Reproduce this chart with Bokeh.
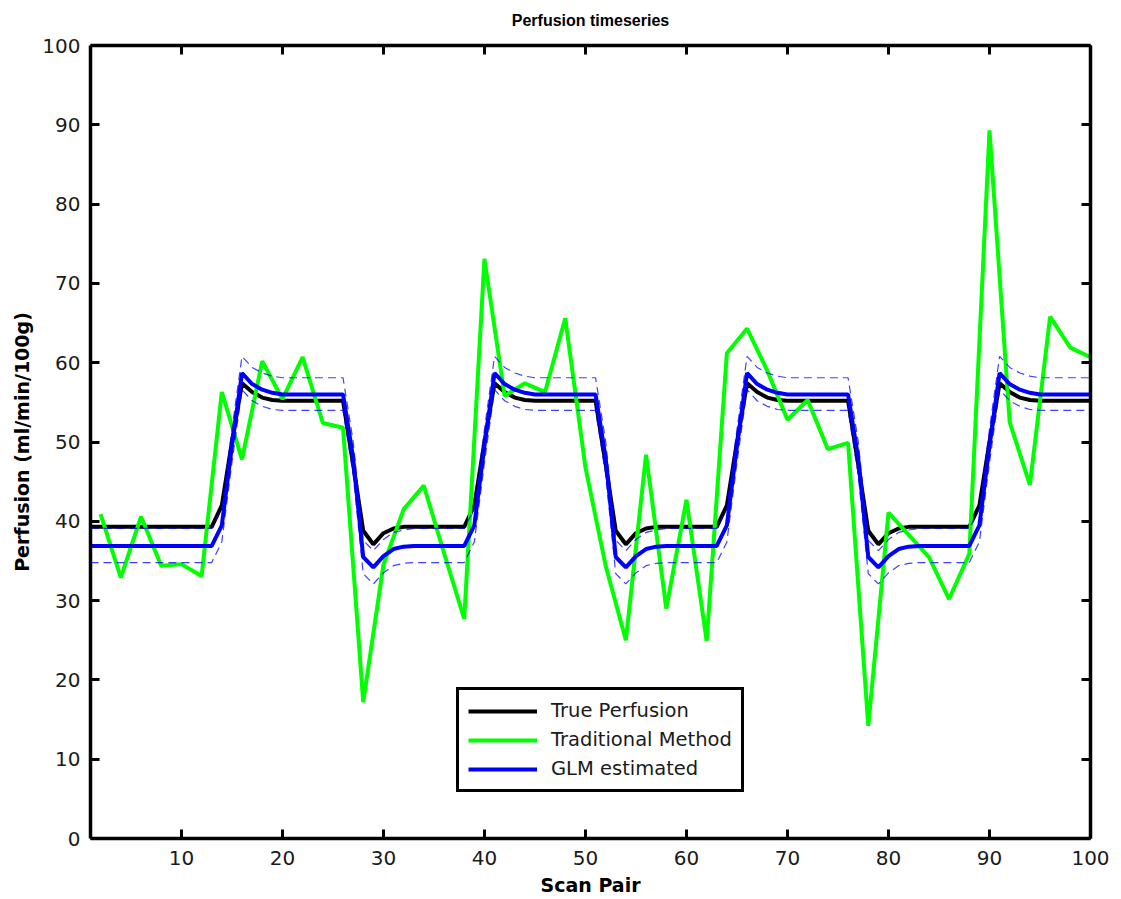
from bokeh.plotting import figure
from bokeh.models import Range1d, LinearAxis, FixedTicker, Legend, LegendItem
from bokeh.embed import file_html
from bokeh.resources import INLINE

# ---------------- data ----------------
scan = list(range(1, 101))

true_perf = [
    39.3, 39.3, 39.3, 39.3, 39.3, 39.3, 39.3, 39.3, 39.3, 39.3, 39.3, 39.3, 39.3,
    42.0, 50.0, 57.4, 56.3, 55.6, 55.3, 55.2, 55.2, 55.2, 55.2, 55.2, 55.2, 55.2,
    47.2, 38.8, 37.1, 38.5, 39.1, 39.3, 39.3, 39.3, 39.3, 39.3, 39.3, 39.3,
    42.0, 50.0, 57.4, 56.3, 55.6, 55.3, 55.2, 55.2, 55.2, 55.2, 55.2, 55.2, 55.2,
    47.2, 38.8, 37.1, 38.5, 39.1, 39.3, 39.3, 39.3, 39.3, 39.3, 39.3, 39.3,
    42.0, 50.0, 57.4, 56.3, 55.6, 55.3, 55.2, 55.2, 55.2, 55.2, 55.2, 55.2, 55.2,
    47.2, 38.8, 37.1, 38.5, 39.1, 39.3, 39.3, 39.3, 39.3, 39.3, 39.3, 39.3,
    42.0, 50.0, 57.4, 56.3, 55.6, 55.3, 55.2, 55.2, 55.2, 55.2, 55.2, 55.2,
]

glm_est = [
    36.9, 36.9, 36.9, 36.9, 36.9, 36.9, 36.9, 36.9, 36.9, 36.9, 36.9, 36.9, 36.9,
    39.5, 49.5, 58.7, 57.3, 56.6, 56.2, 56.0, 56.0, 56.0, 56.0, 56.0, 56.0, 56.0,
    48.0, 35.5, 34.2, 35.6, 36.5, 36.8, 36.9, 36.9, 36.9, 36.9, 36.9, 36.9,
    39.5, 49.5, 58.7, 57.3, 56.6, 56.2, 56.0, 56.0, 56.0, 56.0, 56.0, 56.0, 56.0,
    48.0, 35.5, 34.2, 35.6, 36.5, 36.8, 36.9, 36.9, 36.9, 36.9, 36.9, 36.9,
    39.5, 49.5, 58.7, 57.3, 56.6, 56.2, 56.0, 56.0, 56.0, 56.0, 56.0, 56.0, 56.0,
    48.0, 35.5, 34.2, 35.6, 36.5, 36.8, 36.9, 36.9, 36.9, 36.9, 36.9, 36.9,
    39.5, 49.5, 58.7, 57.3, 56.6, 56.2, 56.0, 56.0, 56.0, 56.0, 56.0, 56.0,
]

glm_upper = [
    39.1, 39.1, 39.1, 39.1, 39.1, 39.1, 39.1, 39.1, 39.1, 39.1, 39.1, 39.1, 39.1,
    41.6, 51.6, 60.8, 59.4, 58.7, 58.3, 58.1, 58.1, 58.1, 58.1, 58.1, 58.1, 58.1,
    50.1, 37.6, 36.3, 37.7, 38.6, 38.9, 39.1, 39.1, 39.1, 39.1, 39.1, 39.1,
    41.6, 51.6, 60.8, 59.4, 58.7, 58.3, 58.1, 58.1, 58.1, 58.1, 58.1, 58.1, 58.1,
    50.1, 37.6, 36.3, 37.7, 38.6, 38.9, 39.1, 39.1, 39.1, 39.1, 39.1, 39.1,
    41.6, 51.6, 60.8, 59.4, 58.7, 58.3, 58.1, 58.1, 58.1, 58.1, 58.1, 58.1, 58.1,
    50.1, 37.6, 36.3, 37.7, 38.6, 38.9, 39.1, 39.1, 39.1, 39.1, 39.1, 39.1,
    41.6, 51.6, 60.8, 59.4, 58.7, 58.3, 58.1, 58.1, 58.1, 58.1, 58.1, 58.1,
]

glm_lower = [
    34.8, 34.8, 34.8, 34.8, 34.8, 34.8, 34.8, 34.8, 34.8, 34.8, 34.8, 34.8, 34.8,
    37.4, 47.4, 56.6, 55.2, 54.5, 54.1, 54.0, 54.0, 54.0, 54.0, 54.0, 54.0, 54.0,
    45.9, 33.4, 32.1, 33.5, 34.4, 34.7, 34.8, 34.8, 34.8, 34.8, 34.8, 34.8,
    37.4, 47.4, 56.6, 55.2, 54.5, 54.1, 54.0, 54.0, 54.0, 54.0, 54.0, 54.0, 54.0,
    45.9, 33.4, 32.1, 33.5, 34.4, 34.7, 34.8, 34.8, 34.8, 34.8, 34.8, 34.8,
    37.4, 47.4, 56.6, 55.2, 54.5, 54.1, 54.0, 54.0, 54.0, 54.0, 54.0, 54.0, 54.0,
    45.9, 33.4, 32.1, 33.5, 34.4, 34.7, 34.8, 34.8, 34.8, 34.8, 34.8, 34.8,
    37.4, 47.4, 56.6, 55.2, 54.5, 54.1, 54.0, 54.0, 54.0, 54.0, 54.0, 54.0,
]

trad_scan = list(range(2, 101, 2))
trad_perf = [
    40.9, 32.9, 40.6, 34.4, 34.6, 33.1, 56.3, 47.8, 60.2, 55.4,
    60.7, 52.4, 51.8, 17.2, 34.5, 41.5, 44.5, 36.0, 27.7, 73.1,
    55.8, 57.4, 56.3, 65.6, 46.8, 34.4, 25.0, 48.4, 29.0, 42.7,
    24.9, 61.2, 64.3, 59.0, 52.8, 55.3, 49.1, 49.9, 14.2, 41.1,
    38.3, 35.5, 30.2, 35.9, 89.3, 52.5, 44.6, 65.8, 61.9, 60.7,
]

x_ticks = [10, 20, 30, 40, 50, 60, 70, 80, 90, 100]
y_ticks = [0, 10, 20, 30, 40, 50, 60, 70, 80, 90, 100]

chart_title = "Perfusion timeseries"

assert len(true_perf) == 100 and len(glm_est) == 100
assert len(glm_upper) == 100 and len(glm_lower) == 100
assert len(trad_perf) == len(trad_scan)

FONT = "DejaVu Sans"
TITLE_FONT = "Liberation Sans"

# ---------------- figure ----------------
p = figure(width=1121, height=899,
           x_range=Range1d(1, 100), y_range=Range1d(0, 100),
           output_backend="svg", toolbar_location=None,
           min_border_left=90, min_border_right=31,
           min_border_top=45, min_border_bottom=61)

p.background_fill_color = "white"
p.border_fill_color = "white"
p.outline_line_color = None
p.xgrid.visible = False
p.ygrid.visible = False


def style_axis(ax, ticks, show_labels=True):
    ax.ticker = FixedTicker(ticks=ticks)
    ax.axis_line_color = "black"
    ax.axis_line_width = 3.5
    ax.major_tick_line_color = "black"
    ax.major_tick_line_width = 3
    ax.major_tick_in = 9
    ax.major_tick_out = 0
    ax.minor_tick_line_color = None
    ax.major_label_text_font = FONT
    if show_labels:
        ax.major_label_text_font_size = "20px"
        ax.major_label_text_color = "#1a1a1a"
    else:
        ax.major_label_text_font_size = "1px"
        ax.major_label_text_color = None
        ax.major_label_standoff = 0


xa = p.xaxis[0]
style_axis(xa, x_ticks)
xa.major_label_standoff = 12
xa.axis_label = "Scan Pair"
xa.axis_label_text_font = FONT
xa.axis_label_text_font_size = "19px"
xa.axis_label_text_font_style = "bold"
xa.axis_label_text_color = "black"
xa.axis_label_standoff = 6

ya = p.yaxis[0]
style_axis(ya, y_ticks)
ya.major_label_standoff = 10
ya.axis_label = "Perfusion (ml/min/100g)"
ya.axis_label_text_font = FONT
ya.axis_label_text_font_size = "19px"
ya.axis_label_text_font_style = "bold"
ya.axis_label_text_color = "black"
ya.axis_label_standoff = 6

# top axis: box ticks, and carries the chart title above the frame
top_ax = LinearAxis()
style_axis(top_ax, x_ticks, show_labels=False)
top_ax.axis_label = chart_title
top_ax.axis_label_text_font = TITLE_FONT
top_ax.axis_label_text_font_size = "16px"
top_ax.axis_label_text_font_style = "bold"
top_ax.axis_label_text_color = "black"
top_ax.axis_label_standoff = 17
p.add_layout(top_ax, "above")

right_ax = LinearAxis()
style_axis(right_ax, y_ticks, show_labels=False)
p.add_layout(right_ax, "right")

# ---------------- series ----------------
r_true = p.line(scan, true_perf, line_color="black", line_width=4)
r_trad = p.line(trad_scan, trad_perf, line_color="#00ff00", line_width=4)
r_glm = p.line(scan, glm_est, line_color="#0000ff", line_width=4)
p.line(scan, glm_upper, line_color="#0000ff", line_width=1.2,
       line_dash="8 5", line_alpha=0.75)
p.line(scan, glm_lower, line_color="#0000ff", line_width=1.2,
       line_dash="8 5", line_alpha=0.75)

legend = Legend(items=[
    LegendItem(label="True Perfusion", renderers=[r_true]),
    LegendItem(label="Traditional Method", renderers=[r_trad]),
    LegendItem(label="GLM estimated", renderers=[r_glm]),
], location=(366, 46))
legend.border_line_color = "black"
legend.border_line_width = 3
legend.border_line_alpha = 1
legend.background_fill_color = "white"
legend.background_fill_alpha = 1
legend.glyph_width = 69
legend.glyph_height = 20
legend.label_text_font = FONT
legend.label_text_font_size = "19.5px"
legend.label_text_color = "#1a1a1a"
legend.label_standoff = 14
legend.padding = 9
legend.spacing = 6
legend.margin = 0
p.add_layout(legend)

open("out.html", "w").write(file_html(p, INLINE))
